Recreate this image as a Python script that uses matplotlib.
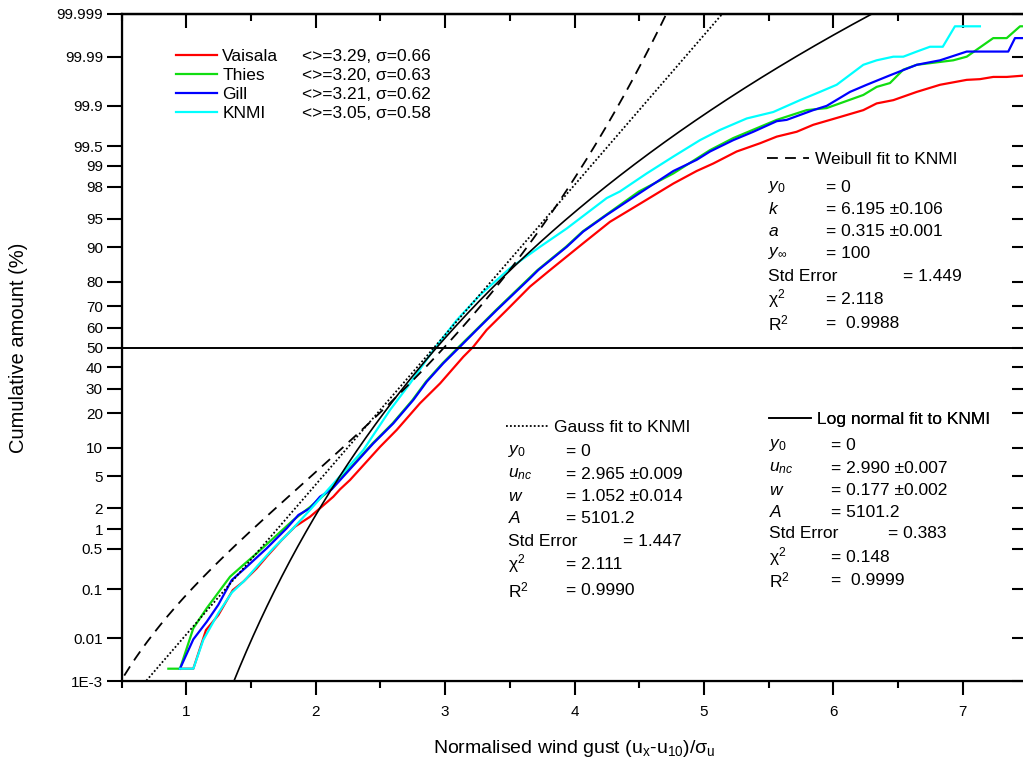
import math
import numpy as np
import matplotlib
matplotlib.use("Agg")
import matplotlib.pyplot as plt
from matplotlib.ticker import MultipleLocator, NullLocator

plt.rcParams['font.family'] = ['Liberation Sans', 'DejaVu Sans']
plt.rcParams['mathtext.fontset'] = 'custom'
plt.rcParams['mathtext.rm'] = 'Liberation Sans'
plt.rcParams['mathtext.it'] = 'Liberation Sans:italic'
plt.rcParams['mathtext.bf'] = 'Liberation Sans:bold'

# cumulative distributions (x, cumulative %)
vaisala_x = [0.951, 1.054, 1.152, 1.247, 1.359, 1.440, 1.544, 1.621, 1.737, 1.840, 1.956, 2.033, 2.136, 2.188,
             2.265, 2.497, 2.626, 2.806, 2.961, 3.141, 3.218, 3.321, 3.476, 3.656, 3.811, 4.068, 4.274, 4.506,
             4.764, 4.944, 5.073, 5.253, 5.434, 5.563, 5.717, 5.845, 6.052, 6.232, 6.335, 6.464, 6.645, 6.825,
             7.031, 7.133, 7.236, 7.340, 7.5]
vaisala_p = [0.002, 0.002, 0.0151, 0.031, 0.096, 0.137, 0.237, 0.374, 0.691, 1.10, 1.52, 1.99, 2.82, 3.49,
             4.51, 10.2, 14.6, 23.8, 32.3, 45.3, 50.4, 58.9, 68.4, 78.2, 83.9, 90.9, 94.6, 96.7,
             98.2, 98.8, 99.07, 99.39, 99.55, 99.65, 99.71, 99.78, 99.84, 99.88, 99.910, 99.922, 99.946, 99.961,
             99.969, 99.970, 99.973, 99.973, 99.975]

thies_x = [0.861, 0.951, 1.054, 1.158, 1.338, 1.440, 1.544, 1.672, 1.827, 1.956, 2.118, 2.439, 2.594, 2.748,
           2.852, 2.980, 3.107, 3.239, 3.393, 3.648, 3.714, 3.934, 4.062, 4.243, 4.498, 4.764, 5.047, 5.227,
           5.563, 5.794, 5.949, 6.232, 6.335, 6.438, 6.541, 6.645, 6.927, 7.031, 7.236, 7.340, 7.443, 7.5]
thies_p = [0.002, 0.002, 0.0165, 0.043, 0.169, 0.271, 0.424, 0.734, 1.37, 2.07, 3.52, 11.0, 16.6, 25.1,
           33.1, 42.0, 50.4, 58.9, 68.4, 81.2, 83.9, 90.1, 93.1, 95.5, 97.7, 98.7, 99.42, 99.63,
           99.82, 99.88, 99.89, 99.938, 99.957, 99.964, 99.981, 99.985, 99.988, 99.990, 99.9962, 99.9962, 99.998, 99.998]

gill_x = [0.951, 1.054, 1.158, 1.247, 1.351, 1.467, 1.621, 1.776, 1.866, 1.956, 2.033, 2.124, 2.445, 2.600,
          2.754, 2.858, 2.986, 3.115, 3.244, 3.399, 3.656, 3.720, 3.940, 4.068, 4.249, 4.506, 4.764, 4.944,
          5.047, 5.227, 5.382, 5.563, 5.640, 5.845, 5.949, 6.129, 6.258, 6.438, 6.645, 6.825, 7.031, 7.352,
          7.404, 7.5]
gill_p = [0.002, 0.0095, 0.0227, 0.050, 0.147, 0.253, 0.511, 1.04, 1.61, 1.99, 2.82, 3.49, 11.0, 16.6,
          25.1, 33.1, 42.0, 50.4, 58.9, 68.4, 81.2, 83.9, 90.1, 93.1, 95.5, 97.6, 98.8, 99.18,
          99.39, 99.60, 99.71, 99.81, 99.82, 99.88, 99.90, 99.946, 99.961, 99.975, 99.985, 99.988, 99.9923, 99.9923,
          99.9962, 99.9962]

knmi_x = [0.951, 1.054, 1.131, 1.247, 1.351, 1.454, 1.556, 1.672, 1.801, 1.956, 2.097, 2.368, 2.574, 2.729,
          2.909, 3.090, 3.270, 3.502, 3.733, 3.940, 4.249, 4.351, 4.558, 4.764, 4.970, 5.124, 5.331, 5.536,
          5.743, 5.897, 6.026, 6.232, 6.335, 6.464, 6.541, 6.645, 6.747, 6.846, 6.940, 7.133]
knmi_p = [0.002, 0.002, 0.0092, 0.034, 0.086, 0.147, 0.271, 0.511, 0.926, 1.89, 3.49, 9.49, 21.2, 32.3,
          48.7, 63.7, 74.9, 84.5, 90.1, 93.6, 97.2, 97.7, 98.7, 99.27, 99.60, 99.73, 99.83, 99.87,
          99.922, 99.946, 99.961, 99.985, 99.988, 99.990, 99.990, 99.9923, 99.9940, 99.9940, 99.998, 99.998]

names = ['Vaisala', 'Thies', 'Gill', 'KNMI']
stats = ['<>=3.29, \u03c3=0.66', '<>=3.20, \u03c3=0.63', '<>=3.21, \u03c3=0.62', '<>=3.05, \u03c3=0.58']
colors = ['#ff0000', '#11dd11', '#0000ff', '#00ffff']

# fitted curves (parameters as drawn)
weib_k, weib_a = 6.195, 0.315
gauss_xc, gauss_sig = 2.915, 0.522
logn_xc, logn_w = 2.935, 0.179

ytick_vals = [0.001, 0.01, 0.1, 0.5, 1, 2, 5, 10, 20, 30, 40, 50, 60, 70, 80, 90, 95, 98, 99, 99.5, 99.9, 99.99, 99.999]
ytick_labels = ['1E-3', '0.01', '0.1', '0.5', '1', '2', '5', '10', '20', '30', '40', '50', '60', '70', '80', '90',
                '95', '98', '99', '99.5', '99.9', '99.99', '99.999']


def ppf(p):
    # Acklam's inverse normal
    p = np.clip(np.asarray(p, dtype=float), 1e-15, 1 - 1e-15)
    a = [-3.969683028665376e+01, 2.209460984245205e+02, -2.759285104469687e+02,
         1.383577518672690e+02, -3.066479806614716e+01, 2.506628277459239e+00]
    b = [-5.447609879822406e+01, 1.615858368580409e+02, -1.556989798598866e+02,
         6.680131188771972e+01, -1.328068155288572e+01]
    c = [-7.784894002430293e-03, -3.223964580411365e-01, -2.400758277161838e+00,
         -2.549732539343734e+00, 4.374664141464968e+00, 2.938163982698783e+00]
    d = [7.784695709041462e-03, 3.224671290700398e-01, 2.445134137142996e+00, 3.754408661907416e+00]
    plow = 0.02425
    out = np.empty_like(p)
    lo = p < plow
    hi = p > 1 - plow
    mid = ~(lo | hi)
    q = np.sqrt(-2 * np.log(p[lo]))
    out[lo] = (((((c[0]*q+c[1])*q+c[2])*q+c[3])*q+c[4])*q+c[5]) / ((((d[0]*q+d[1])*q+d[2])*q+d[3])*q+1)
    q = np.sqrt(-2 * np.log(1 - p[hi]))
    out[hi] = -(((((c[0]*q+c[1])*q+c[2])*q+c[3])*q+c[4])*q+c[5]) / ((((d[0]*q+d[1])*q+d[2])*q+d[3])*q+1)
    q = p[mid] - 0.5
    r = q * q
    out[mid] = (((((a[0]*r+a[1])*r+a[2])*r+a[3])*r+a[4])*r+a[5])*q / (((((b[0]*r+b[1])*r+b[2])*r+b[3])*r+b[4])*r+1)
    return out


_erfc = np.vectorize(math.erfc)


def cdf(z):
    return 0.5 * _erfc(-np.asarray(z, dtype=float) / math.sqrt(2))


def fwd(pct):
    return ppf(np.asarray(pct, dtype=float) / 100.0)


def inv(z):
    return cdf(z) * 100.0


fig = plt.figure(figsize=(10.23, 7.65), dpi=100)
ax = fig.add_axes([0.1189, 0.1098, 0.8854, 0.8719])
ax.set_yscale('function', functions=(fwd, inv))

lines = []
for xs, ps, c in zip([vaisala_x, thies_x, gill_x, knmi_x], [vaisala_p, thies_p, gill_p, knmi_p], colors):
    ln, = ax.plot(xs, ps, color=c, lw=1.6)
    lines.append(ln)

xx = np.linspace(0.45, 7.5, 800)
weib = 100 * (1 - np.exp(-(weib_a * xx) ** weib_k))
gauss = 100 * cdf((xx - gauss_xc) / gauss_sig)
logn = 100 * cdf(np.log(xx / logn_xc) / logn_w)
l_weib, = ax.plot(xx, weib, color='black', lw=1.3, dashes=(6, 4))
l_gauss, = ax.plot(xx, gauss, color='black', lw=1.3, linestyle=(0, (1, 1.2)))
l_logn, = ax.plot(xx, logn, color='black', lw=1.2)
ax.axhline(50, color='black', lw=1.4)

ax.set_xlim(0.5, 7.5)
ax.set_ylim(0.001, 99.999)
ax.set_yticks(ytick_vals, ytick_labels)
ax.yaxis.set_minor_locator(NullLocator())
ax.xaxis.set_major_locator(MultipleLocator(1))
ax.xaxis.set_minor_locator(MultipleLocator(0.5))

for s in ax.spines.values():
    s.set_linewidth(1.6)
ax.tick_params(axis='x', which='major', direction='out', length=10, width=1.5, labelsize=11, pad=7)
ax.tick_params(axis='x', which='minor', direction='out', length=5, width=1.5)
ax.tick_params(axis='y', which='major', direction='out', length=10.5, width=1.5, labelsize=11, pad=3)

top = ax.secondary_xaxis('top')
top.xaxis.set_major_locator(MultipleLocator(1))
top.xaxis.set_minor_locator(MultipleLocator(0.5))
top.tick_params(which='major', direction='in', length=10, width=1.5, labeltop=False)
top.tick_params(which='minor', direction='in', length=5, width=1.5)
top.spines['top'].set_linewidth(1.6)

ax2 = ax.twinx()
ax2.set_yscale('function', functions=(fwd, inv))
ax2.set_ylim(0.001, 99.999)
ax2.set_yticks(ytick_vals)
ax2.yaxis.set_minor_locator(NullLocator())
ax2.tick_params(axis='y', direction='in', length=10.5, width=1.5, labelright=False)

ax.set_xlabel('Normalised wind gust (u$_\\mathrm{x}$-u$_\\mathrm{10}$)/\u03c3$_\\mathrm{u}$', fontsize=14, labelpad=14)
ax.set_ylabel('Cumulative amount (%)', fontsize=14.5, labelpad=20)

fs = 12.5
leg = ax.legend(lines, names, loc='upper left', bbox_to_anchor=(0.0603, 0.948), frameon=False, fontsize=fs,
                handlelength=2.35, handletextpad=0.3, labelspacing=0.22, borderpad=0, borderaxespad=0)
ax.add_artist(leg)
fig.canvas.draw()
inv_t = ax.transAxes.inverted()
for t, s in zip(leg.get_texts(), stats):
    bb = t.get_window_extent()
    yc = inv_t.transform((0, (bb.y0 + bb.y1) / 2))[1]
    ax.text(0.1992, yc, s, transform=ax.transAxes, fontsize=fs, va='center')


def fit_block(handle, title, anchor, rows, x_sym, x_eq):
    lg = ax.legend([handle], [title], loc='upper left', bbox_to_anchor=anchor, frameon=False, fontsize=fs,
                   handlelength=2.4, handletextpad=0.35, borderpad=0, borderaxespad=0)
    ax.add_artist(lg)
    for sym, val, y, xe in rows:
        ax.text(x_sym, y, sym, transform=ax.transAxes, fontsize=fs, va='center')
        ax.text(xe if xe is not None else x_eq, y, val, transform=ax.transAxes, fontsize=fs, va='center')


def fy(py):
    return (681 - py) / 667.0


def fx(px):
    return (px - 121.6) / 905.8


fit_block(l_weib, 'Weibull fit to KNMI', (fx(767), fy(152)),
          [('$\\mathit{y_0}$', '= 0', fy(187), None),
           ('$\\mathit{k}$', '= 6.195 \u00b10.106', fy(209), None),
           ('$\\mathit{a}$', '= 0.315 \u00b10.001', fy(231), None),
           ('$\\mathit{y_\\infty}$', '= 100', fy(253), None),
           ('Std Error', '= 1.449', fy(276), fx(903)),
           ('\u03c7$^2$', '= 2.118', fy(299), None),
           ('R$^2$', '=  0.9988', fy(323), None)],
          fx(768), fx(826))

fit_block(l_gauss, 'Gauss fit to KNMI', (fx(506), fy(420)),
          [('$\\mathit{y_0}$', '= 0', fy(451), None),
           ('$\\mathit{u_{nc}}$', '= 2.965 \u00b10.009', fy(474), None),
           ('$\\mathit{w}$', '= 1.052 \u00b10.014', fy(496), None),
           ('$\\mathit{A}$', '= 5101.2', fy(518), None),
           ('Std Error', '= 1.447', fy(541), fx(623)),
           ('\u03c7$^2$', '= 2.111', fy(564), None),
           ('R$^2$', '= 0.9990', fy(590), None)],
          fx(508), fx(566))

fit_block(l_logn, 'Log normal fit to KNMI', (fx(769), fy(412)),
          [('$\\mathit{y_0}$', '= 0', fy(445), None),
           ('$\\mathit{u_{nc}}$', '= 2.990 \u00b10.007', fy(468), None),
           ('$\\mathit{w}$', '= 0.177 \u00b10.002', fy(490), None),
           ('$\\mathit{A}$', '= 5101.2', fy(512), None),
           ('Std Error', '= 0.383', fy(533), fx(888)),
           ('\u03c7$^2$', '= 0.148', fy(557), None),
           ('R$^2$', '=  0.9999', fy(580), None)],
          fx(769), fx(831))

fig.savefig('out.png', dpi=100)
